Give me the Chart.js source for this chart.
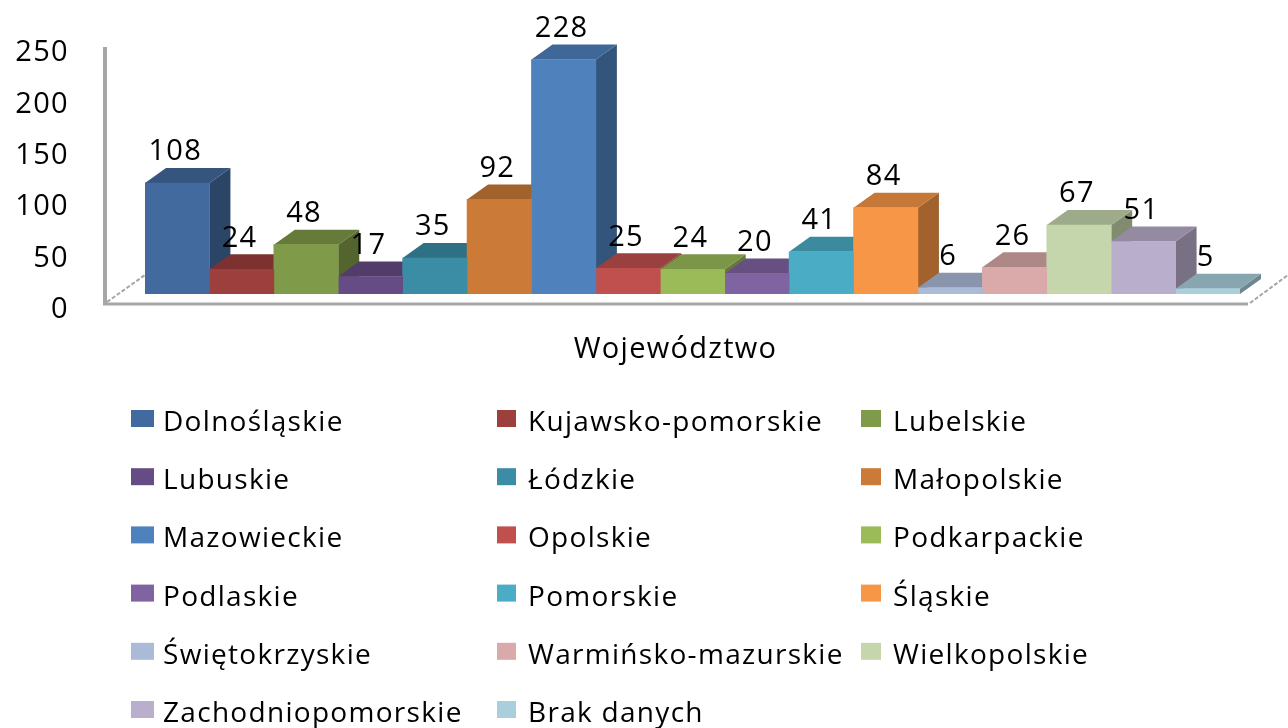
<!DOCTYPE html>
<html lang="pl">
<head>
<meta charset="utf-8">
<title>Województwo</title>
<script src="https://cdn.jsdelivr.net/npm/chart.js@4/dist/chart.umd.min.js"></script>
<style>
    html, body { margin: 0; padding: 0; background: #fff; overflow: hidden; }
    canvas { display: block; }
</style>
</head>
<body>
<canvas id="chart" width="1288" height="728"></canvas>
<script>
const regions = [
    'Dolnośląskie', 'Kujawsko-pomorskie', 'Lubelskie', 'Lubuskie', 'Łódzkie', 'Małopolskie',
    'Mazowieckie', 'Opolskie', 'Podkarpackie', 'Podlaskie', 'Pomorskie', 'Śląskie',
    'Świętokrzyskie', 'Warmińsko-mazurskie', 'Wielkopolskie', 'Zachodniopomorskie', 'Brak danych'
];
const counts = [108, 24, 48, 17, 35, 92, 228, 25, 24, 20, 41, 84, 6, 26, 67, 51, 5];
const colors = [
    '#426a9e', '#9c3f3d', '#7f9a48', '#664c84', '#3b8da5', '#cb7a37',
    '#4f81bd', '#c0504d', '#9bbb59', '#8064a2', '#4bacc6', '#f79646',
    '#aabad7', '#d9aaa9', '#c6d6ac', '#b9aecb', '#a9cfdc'
];
const categories = ['Województwo'];
const yTicks = [0, 50, 100, 150, 200, 250];

const FONT = '"Open Sans", sans-serif';
const SPACING = '1.3px';
const DEPTH_X = 21;
const DEPTH_Y = 15;

function shade(hex, k) {
    const n = parseInt(hex.slice(1), 16);
    const r = Math.round((n >> 16) * k);
    const g = Math.round(((n >> 8) & 255) * k);
    const b = Math.round((n & 255) * k);
    return `rgb(${r}, ${g}, ${b})`;
}

function poly(ctx, pts, fill) {
    ctx.beginPath();
    pts.forEach((p, i) => i ? ctx.lineTo(p[0], p[1]) : ctx.moveTo(p[0], p[1]));
    ctx.closePath();
    ctx.fillStyle = fill;
    ctx.fill();
}

// floor and wall of the fake 3D box, behind everything else
const wallPlugin = {
    id: 'wall',
    beforeDraw(chart) {
        const ctx = chart.ctx;
        ctx.letterSpacing = SPACING;
        ctx.save();
        ctx.strokeStyle = '#a6a6a6';
        ctx.lineWidth = 4;
        ctx.beginPath();
        ctx.moveTo(105, 47);
        ctx.lineTo(105, 305);
        ctx.stroke();
        ctx.lineWidth = 3;
        ctx.beginPath();
        ctx.moveTo(103, 304);
        ctx.lineTo(1248, 304);
        ctx.stroke();
        ctx.lineWidth = 2;
        ctx.setLineDash([4, 2]);
        ctx.beginPath();
        ctx.moveTo(107, 302);
        ctx.lineTo(145, 275);
        ctx.moveTo(1250, 303);
        ctx.lineTo(1288, 275);
        ctx.stroke();
        ctx.restore();
    }
};

// side and top faces go under all the front faces, left to right
const depthPlugin = {
    id: 'depth',
    beforeDatasetsDraw(chart) {
        const ctx = chart.ctx;
        chart.data.datasets.forEach((ds, i) => {
            const bar = chart.getDatasetMeta(i).data[0];
            const left = bar.x - bar.width / 2;
            const right = bar.x + bar.width / 2;
            poly(ctx, [
                [right, bar.y], [right + DEPTH_X, bar.y - DEPTH_Y],
                [right + DEPTH_X, bar.base - DEPTH_Y], [right, bar.base]
            ], shade(colors[i], 0.65));
            poly(ctx, [
                [left, bar.y], [left + DEPTH_X, bar.y - DEPTH_Y],
                [right + DEPTH_X, bar.y - DEPTH_Y], [right, bar.y]
            ], shade(colors[i], 0.8));
        });
    }
};

const valueLabelPlugin = {
    id: 'valueLabels',
    afterDatasetsDraw(chart) {
        const ctx = chart.ctx;
        ctx.save();
        ctx.font = `29px ${FONT}`;
        ctx.fillStyle = '#000';
        ctx.textAlign = 'center';
        ctx.textBaseline = 'middle';
        chart.data.datasets.forEach((ds, i) => {
            const bar = chart.getDatasetMeta(i).data[0];
            ctx.fillText(String(ds.data[0]), bar.x - 2, bar.y - 31);
        });
        ctx.restore();
    }
};

// three column legend, the built in one only wraps by width
const gridLegendPlugin = {
    id: 'gridLegend',
    afterDraw(chart) {
        const ctx = chart.ctx;
        const swatchX = [131, 497, 861];
        const swatchW = [23, 19, 20];
        const textX = [163, 528, 893];
        ctx.save();
        ctx.font = `28px ${FONT}`;
        ctx.textBaseline = 'middle';
        regions.forEach((name, i) => {
            const col = i % 3;
            const top = 410 + Math.floor(i / 3) * 58.2;
            ctx.fillStyle = colors[i];
            ctx.fillRect(swatchX[col], top, swatchW[col], 17);
            ctx.fillStyle = '#000';
            ctx.fillText(name, textX[col], top + 13);
        });
        ctx.restore();
    }
};

new Chart(document.getElementById('chart'), {
    type: 'bar',
    data: {
        labels: categories,
        datasets: regions.map((name, i) => ({
            label: name,
            data: [counts[i]],
            backgroundColor: colors[i],
            barPercentage: 1,
            categoryPercentage: 1
        }))
    },
    options: {
        responsive: false,
        animation: false,
        layout: { autoPadding: false, padding: { top: 37, right: 48, left: 0, bottom: 354 } },
        plugins: {
            legend: { display: false },
            tooltip: { enabled: false }
        },
        scales: {
            x: {
                grid: { display: false, drawTicks: false },
                border: { display: false },
                afterFit(scale) { scale.height = 80; },
                ticks: {
                    color: '#000',
                    font: { family: FONT, size: 29 },
                    padding: 38,
                    labelOffset: -17
                }
            },
            y: {
                min: 0,
                max: 250,
                grid: { display: false, drawTicks: false },
                border: { display: false },
                afterFit(scale) {
                    scale.width = 145;
                    // tick padding also pushes the plot top down, drop that
                    scale.paddingTop = 0;
                    scale.paddingBottom = 0;
                },
                afterBuildTicks(scale) { scale.ticks = yTicks.map(value => ({ value })); },
                ticks: {
                    color: '#000',
                    font: { family: FONT, size: 29 },
                    padding: 76,
                    labelOffset: 16
                }
            }
        }
    },
    plugins: [wallPlugin, depthPlugin, valueLabelPlugin, gridLegendPlugin]
});
</script>
</body>
</html>
